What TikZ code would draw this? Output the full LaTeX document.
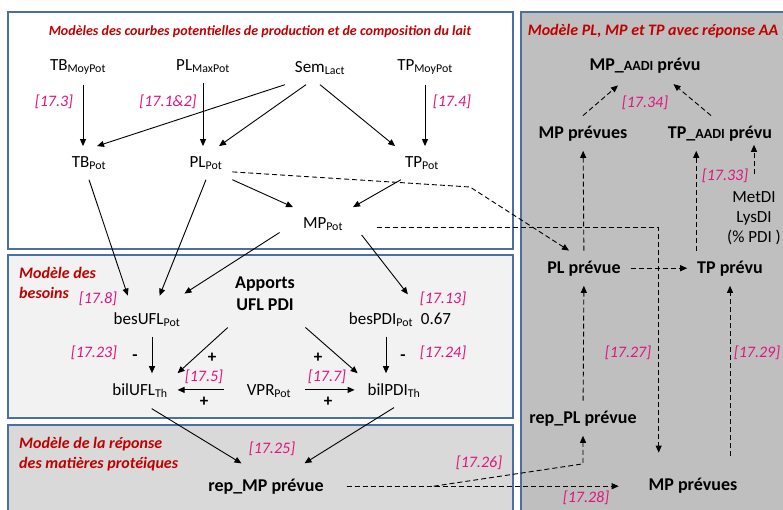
\documentclass[tikz,border=0pt]{standalone}
\usepackage{fontspec}
\setmainfont{Carlito}
\usetikzlibrary{arrows.meta}

\definecolor{boxblue}{HTML}{4A6FA0}
\definecolor{titlered}{HTML}{C00000}
\definecolor{eqpink}{HTML}{E0147F}

\newcommand{\aadi}{{\fontsize{14}{16}\selectfont AADI}}

\tikzset{
  var/.style={anchor=base, inner sep=3pt, outer sep=7pt,
    font=\fontsize{17}{20}\selectfont},
  result/.style={var, font=\fontsize{18}{22}\selectfont\bfseries},
  eq/.style={anchor=base, inner sep=0pt, text=eqpink,
    font=\fontsize{16}{19}\selectfont\itshape},
  boxtitle/.style={inner sep=0pt, align=left, text=titlered,
    font=\fontsize{16}{20}\selectfont\bfseries\itshape},
  sign/.style={inner sep=0pt, font=\fontsize{17}{20}\selectfont\bfseries},
  modelbox/.style={draw=boxblue, line width=2pt},
  link/.style={->, line width=0.9pt},
  dlink/.style={link, dash pattern=on 5pt off 3pt}
}

\begin{document}
\begin{tikzpicture}[x=1pt, y=-1pt, >={Triangle[length=7pt,width=6pt]}]
  \useasboundingbox (0,0) rectangle (783,509);
  \clip (0,0) rectangle (783,509);
  \fill[white] (0,0) rectangle (783,509);

  % the four model boxes
  \draw[modelbox, fill=white] (8,12) rectangle (513,249);
  \draw[modelbox, fill=gray!10] (8,255) rectangle (513,418);
  \draw[modelbox, fill=gray!30] (8,425) rectangle (513,530);
  \draw[modelbox, fill=gray!50] (521,12) rectangle (800,530);

  % potential curves of milk production and composition
  \node[boxtitle, anchor=base, font=\fontsize{14}{20}\selectfont\bfseries\itshape] (title1) at (260,35) {Modèles des courbes potentielles de production et de composition du lait};
  \node[var] (tbmoy) at (78,70) {TB\textsubscript{MoyPot}};
  \node[var] (plmax) at (203,70) {PL\textsubscript{MaxPot}};
  \node[var] (sem) at (320,72) {Sem\textsubscript{Lact}};
  \node[var] (tpmoy) at (425,70) {TP\textsubscript{MoyPot}};
  \node[eq] (e173) at (54,106) {[17.3]};
  \node[eq] (e1712) at (168,106) {[17.1\&2]};
  \node[eq] (e174) at (452,106) {[17.4]};
  \node[var] (tbpot) at (89,167) {TB\textsubscript{Pot}};
  \node[var] (plpot) at (206,167) {PL\textsubscript{Pot}};
  \node[var] (tppot) at (422,167) {TP\textsubscript{Pot}};
  \node[var] (mppot) at (323,228) {MP\textsubscript{Pot}};

  % needs
  \node[boxtitle, anchor=north west] (title2) at (19,267) {Modèle des\\besoins};
  \node[eq] (e178) at (98,303) {[17.8]};
  \node[var] (besufl) at (147,324) {besUFL\textsubscript{Pot}};
  \node[result, align=center, anchor=north] (apports) at (265,267) {Apports\\UFL PDI};
  \node[eq] (e1713) at (443,303) {[17.13]};
  \node[var] (bespdi) at (381,324) {besPDI\textsubscript{Pot}};
  \node[var, inner sep=0pt, outer sep=0pt] (ratio) at (436,324) {0.67};
  \node[eq] (e1723) at (94,357) {[17.23]};
  \node[sign] (minus1) at (135,358) {-};
  \node[sign] (plus1) at (212,358) {+};
  \node[sign] (plus2) at (318,358) {+};
  \node[sign] (minus2) at (403,358) {-};
  \node[eq] (e1724) at (443,357) {[17.24]};
  \node[var] (bilufl) at (140,395) {bilUFL\textsubscript{Th}};
  \node[var] (vpr) at (269,395) {VPR\textsubscript{Pot}};
  \node[var] (bilpdi) at (394,395) {bilPDI\textsubscript{Th}};
  \node[eq] (e175) at (204,381) {[17.5]};
  \node[eq] (e177) at (327,381) {[17.7]};
  \node[sign] (plus3) at (204,402) {+};
  \node[sign] (plus4) at (328,402) {+};

  % protein response
  \node[boxtitle, anchor=north west] (title3) at (19,437) {Modèle de la réponse\\des matières protéiques};
  \node[eq] (e1725) at (272,453) {[17.25]};
  \node[result] (repmp) at (266,491) {rep\_MP prévue};
  \node[eq] (e1726) at (479,467) {[17.26]};

  % PL, MP and TP with AA response
  \node[boxtitle, anchor=base] (title4) at (653,35) {Modèle PL, MP et TP avec réponse AA};
  \node[result] (mpaadi) at (645,70) {MP\_\aadi{} prévu};
  \node[eq] (e1734) at (645,107) {[17.34]};
  \node[result] (mpprev1) at (583,138) {MP prévues};
  \node[result] (tpaadi) at (720,138) {TP\_\aadi{} prévu};
  \node[eq] (e1733) at (725,180) {[17.33]};
  \node[var, align=center, anchor=north] (metdi) at (754,182) {MetDI\\LysDI\\(\% PDI )};
  \node[result] (plprev) at (584,273) {PL prévue};
  \node[result] (tpprev) at (730,273) {TP prévu};
  \node[eq] (e1727) at (628,357) {[17.27]};
  \node[eq] (e1729) at (757,357) {[17.29]};
  \node[result] (repPL) at (583,423) {rep\_PL prévue};
  \node[result] (mpprev2) at (693,490) {MP prévues};
  \node[eq] (e1728) at (586,502) {[17.28]};

  % solid links
  \draw[link] ([xshift=5pt]tbmoy.south) coordinate (c1) -- (c1 |- tbpot.north);
  \draw[link] (plmax.south) -- (plmax.south |- plpot.north);
  \draw[link] (tpmoy.south) -- (tpmoy.south |- tppot.north);
  \draw[link] (sem.south west) -- ([xshift=8pt]tbpot.north);
  \draw[link] ([xshift=-14pt]sem.south) -- ([xshift=13pt]plpot.north);
  \draw[link] (sem.south) -- (tppot.north west);
  \draw[link] (plpot.south east) -- (mppot.north west);
  \draw[link] ([xshift=-21pt]tppot.south) -- (mppot.north east);
  \draw[link, shorten >=7pt] (tbpot.south) -- ([xshift=-17pt]besufl.north);
  \draw[link, shorten >=7pt] (plpot.south) -- ([xshift=10pt]besufl.north);
  \draw[link, shorten <=16pt, shorten >=16pt] (mppot.west) -- ([xshift=24pt]besufl.north);
  \draw[link, shorten <=14pt, shorten >=10pt] (mppot.east) -- ([xshift=33pt]bespdi.north);
  \draw[link] ([xshift=5pt]besufl.south) coordinate (c2) -- (c2 |- bilufl.north);
  \draw[link] ([xshift=5pt]bespdi.south) coordinate (c3) -- (c3 |- bilpdi.north);
  \draw[link, shorten <=10pt] ([xshift=10pt]apports.south west) -- (bilufl.north east);
  \draw[link, shorten <=10pt] ([xshift=-7pt]apports.south east) -- (bilpdi.north west);
  \draw[link, shorten <=13pt] ([yshift=1pt]vpr.west) -- ([yshift=1pt]vpr.west -| bilufl.east);
  \draw[link, shorten <=4pt, shorten >=3pt] ([yshift=1pt]vpr.east) -- ([yshift=1pt]vpr.east -| bilpdi.west);
  \draw[link, shorten <=2pt, shorten >=10pt] ([xshift=10pt]bilufl.south) -- ([xshift=-16pt]repmp.north);
  \draw[link, shorten >=10pt] (bilpdi.south) -- ([xshift=30pt]repmp.north);

  % dashed links
  \draw[dlink] ([yshift=-9pt]plpot.east) -- (470,187) -- ([xshift=-15pt]plprev.north);
  \draw[dlink, shorten <=24pt, shorten >=15pt] ([yshift=-4pt]mppot.east) -| ([xshift=20pt]mpprev2.north west);
  \draw[dlink, shorten <=13pt, shorten >=20pt] (repmp.east) -- (repmp.east -| mpprev2.west);
  \draw[dlink] ([xshift=100pt]repmp.east) -- ([yshift=-28pt]repPL.south) -- (repPL.south);
  \draw[dlink] (repPL) -- (plprev);
  \draw[dlink] (plprev) -- (tpprev);
  \draw[dlink] (plprev) -- (mpprev1);
  \draw[dlink, shorten <=12pt] (tpprev.south |- mpprev2.north) -- (tpprev.south);
  \draw[dlink] ([xshift=9pt]tpprev.north west) coordinate (c4) -- (c4 |- tpaadi.south);
  \draw[dlink, shorten <=8pt, shorten >=-6pt] (metdi.north) -- (metdi.north |- tpaadi.south);
  \draw[dlink, shorten >=4pt] (mpprev1.north) -- ([xshift=-24pt]mpaadi.south);
  \draw[dlink, shorten >=2pt] ([xshift=-9pt]tpaadi.north) -- ([xshift=27pt]mpaadi.south);
\end{tikzpicture}
\end{document}
